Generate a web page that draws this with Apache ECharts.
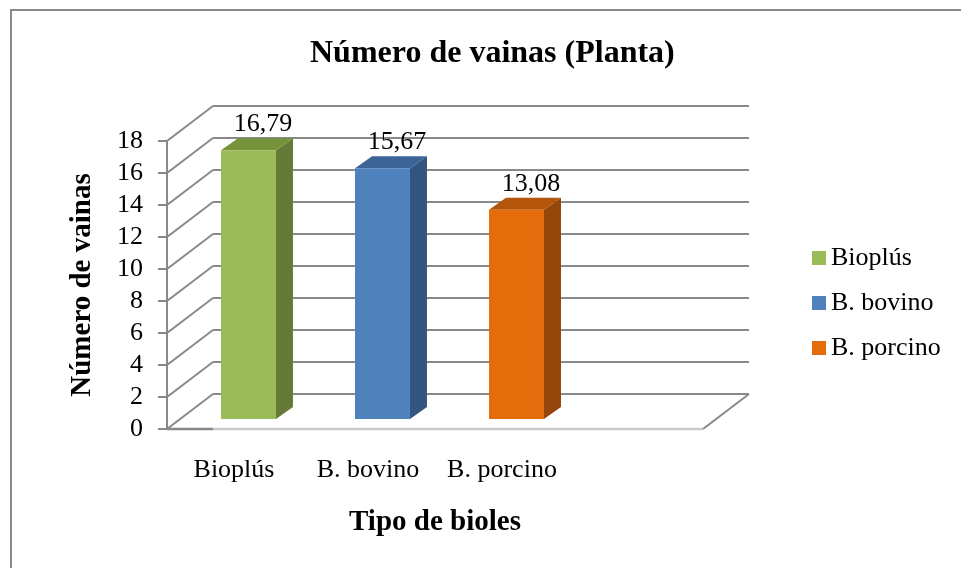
<!DOCTYPE html>
<html><head><meta charset="utf-8">
<script src="https://cdn.jsdelivr.net/npm/echarts@6/dist/echarts.min.js"></script>
<style>html,body{margin:0;padding:0;background:#fff}#c{width:961px;height:568px}</style>
</head><body><div id="c"></div>
<script>
// ---- data ----
const chartTitle = 'Número de vainas (Planta)';
const xTitle = 'Tipo de bioles';
const yTitle = 'Número de vainas';
const categories = ['Bioplús', 'B. bovino', 'B. porcino'];
const values = [16.79, 15.67, 13.08];
const yTicks = [0, 2, 4, 6, 8, 10, 12, 14, 16, 18];
// the reference reserves an empty fourth category slot
const slots = categories.concat(['']);

// ---- styling ----
const FONT = 'Liberation Serif';
const palette = [
  { front: '#9BBB59', side: '#667A37', top: '#76933C' },
  { front: '#4F81BD', side: '#34557F', top: '#3C6496' },
  { front: '#E46C0A', side: '#95460A', top: '#B3550A' }
];
const WALL_DX = 46, WALL_DY = -35;   // depth of the 3D box
const BAR_DX = 14.5, BAR_DY = -10;   // bars sit a bit behind the front plane
const BAR_DEPTH_X = 17, BAR_DEPTH_Y = -12;
const GRID_COLOR = '#898989';

function frameItem(params, api) {
  const cs = params.coordSys;
  const t = api.value(1);
  const y = api.coord([0, t])[1];
  const left = cs.x, right = cs.x + cs.width;
  const children = [];
  // side wall diagonal
  children.push({ type: 'line', shape: { x1: left, y1: y, x2: left + WALL_DX, y2: y + WALL_DY },
    style: { stroke: GRID_COLOR, lineWidth: 2 } });
  // back wall gridline
  children.push({ type: 'line', shape: { x1: left + WALL_DX, y1: y + WALL_DY, x2: right + WALL_DX, y2: y + WALL_DY },
    style: { stroke: GRID_COLOR, lineWidth: 2 } });
  if (t === 0) {
    children.push({ type: 'line', shape: { x1: left + WALL_DX, y1: y, x2: right, y2: y },
      style: { stroke: '#c9c9c9', lineWidth: 2.5 } });
    children.push({ type: 'line', shape: { x1: left, y1: y, x2: left + WALL_DX, y2: y },
      style: { stroke: GRID_COLOR, lineWidth: 2.5 } });
    children.push({ type: 'line', shape: { x1: right, y1: y, x2: right + WALL_DX, y2: y + WALL_DY },
      style: { stroke: GRID_COLOR, lineWidth: 2 } });
  }
  return { type: 'group', children };
}

function makeBarRenderer(col) {
  return function (params, api) {
    const i = api.value(0), v = api.value(1);
    const top = api.coord([i, v]);
    const base = api.coord([i, 0]);
    const w = api.size([1, 0])[0] * 0.41;
    const x0 = top[0] - w / 2 + BAR_DX, x1 = x0 + w;
    const yt = top[1] + BAR_DY, yb = base[1] + BAR_DY;
    const dx = BAR_DEPTH_X, dy = BAR_DEPTH_Y;
    return {
      type: 'group',
      children: [
        { type: 'polygon', shape: { points: [[x1, yb], [x1 + dx, yb + dy], [x1 + dx, yt + dy], [x1, yt]] },
          style: { fill: col.side } },
        { type: 'polygon', shape: { points: [[x0, yt], [x0 + dx, yt + dy], [x1 + dx, yt + dy], [x1, yt]] },
          style: { fill: col.top } },
        { type: 'rect', shape: { x: x0, y: yt, width: w, height: yb - yt },
          style: { fill: col.front } },
        { type: 'text', x: (x0 + x1 + dx) / 2 + 6, y: yt + dy - 14,
          style: { text: v.toFixed(2).replace('.', ','), fill: '#000', font: '26px ' + FONT,
            align: 'center', verticalAlign: 'middle' } }
      ]
    };
  };
}

const chart = echarts.init(document.getElementById('c'), null, { renderer: 'canvas' });
const barSeries = categories.map((name, i) => ({
  type: 'custom',
  name: name,
  z: 3,
  itemStyle: { color: palette[i].front },
  encode: { x: 0, y: 1 },
  data: [[i, values[i]]],
  renderItem: makeBarRenderer(palette[i])
}));

chart.setOption({
  animation: false,
  backgroundColor: '#fff',
  textStyle: { fontFamily: FONT, color: '#000' },
  title: {
    text: chartTitle, left: 310, top: 38, padding: 0,
    textStyle: { fontFamily: FONT, fontSize: 32, fontWeight: 'bold', color: '#000' }
  },
  legend: {
    orient: 'vertical', left: 812, top: 245, padding: 0,
    icon: 'rect', itemWidth: 14, itemHeight: 14, itemGap: 19,
    data: categories,
    textStyle: { fontFamily: FONT, fontSize: 26, color: '#000' }
  },
  grid: { left: 167, right: 258, top: 141, bottom: 139, containLabel: false },
  xAxis: {
    type: 'category', data: slots,
    axisLine: { show: false }, axisTick: { show: false },
    axisLabel: { fontFamily: FONT, fontSize: 26, color: '#000', margin: 28, interval: 0 },
    name: xTitle, nameLocation: 'middle', nameGap: 79,
    nameTextStyle: { fontFamily: FONT, fontSize: 29, fontWeight: 'bold', color: '#000' }
  },
  yAxis: {
    type: 'value', min: 0, max: 18, interval: 2,
    axisLine: { show: true, lineStyle: { color: GRID_COLOR, width: 2 } },
    axisTick: { show: true, length: 9, lineStyle: { color: GRID_COLOR, width: 2 } },
    splitLine: { show: false },
    axisLabel: { fontFamily: FONT, fontSize: 26, color: '#000', margin: 24 },
    name: yTitle, nameLocation: 'middle', nameRotate: 90, nameGap: 70,
    nameTextStyle: { fontFamily: FONT, fontSize: 29, fontWeight: 'bold', color: '#000' }
  },
  graphic: [{
    type: 'rect', shape: { x: 11, y: 10, width: 1000, height: 700 },
    style: { fill: null, stroke: '#8a8a8a', lineWidth: 2 }, z: -1
  }],
  series: [{
    type: 'custom', z: 1, silent: true,
    encode: { x: 0, y: 1 },
    data: yTicks.map(t => [0, t]),
    renderItem: frameItem
  }].concat(barSeries)
});
</script></body></html>
